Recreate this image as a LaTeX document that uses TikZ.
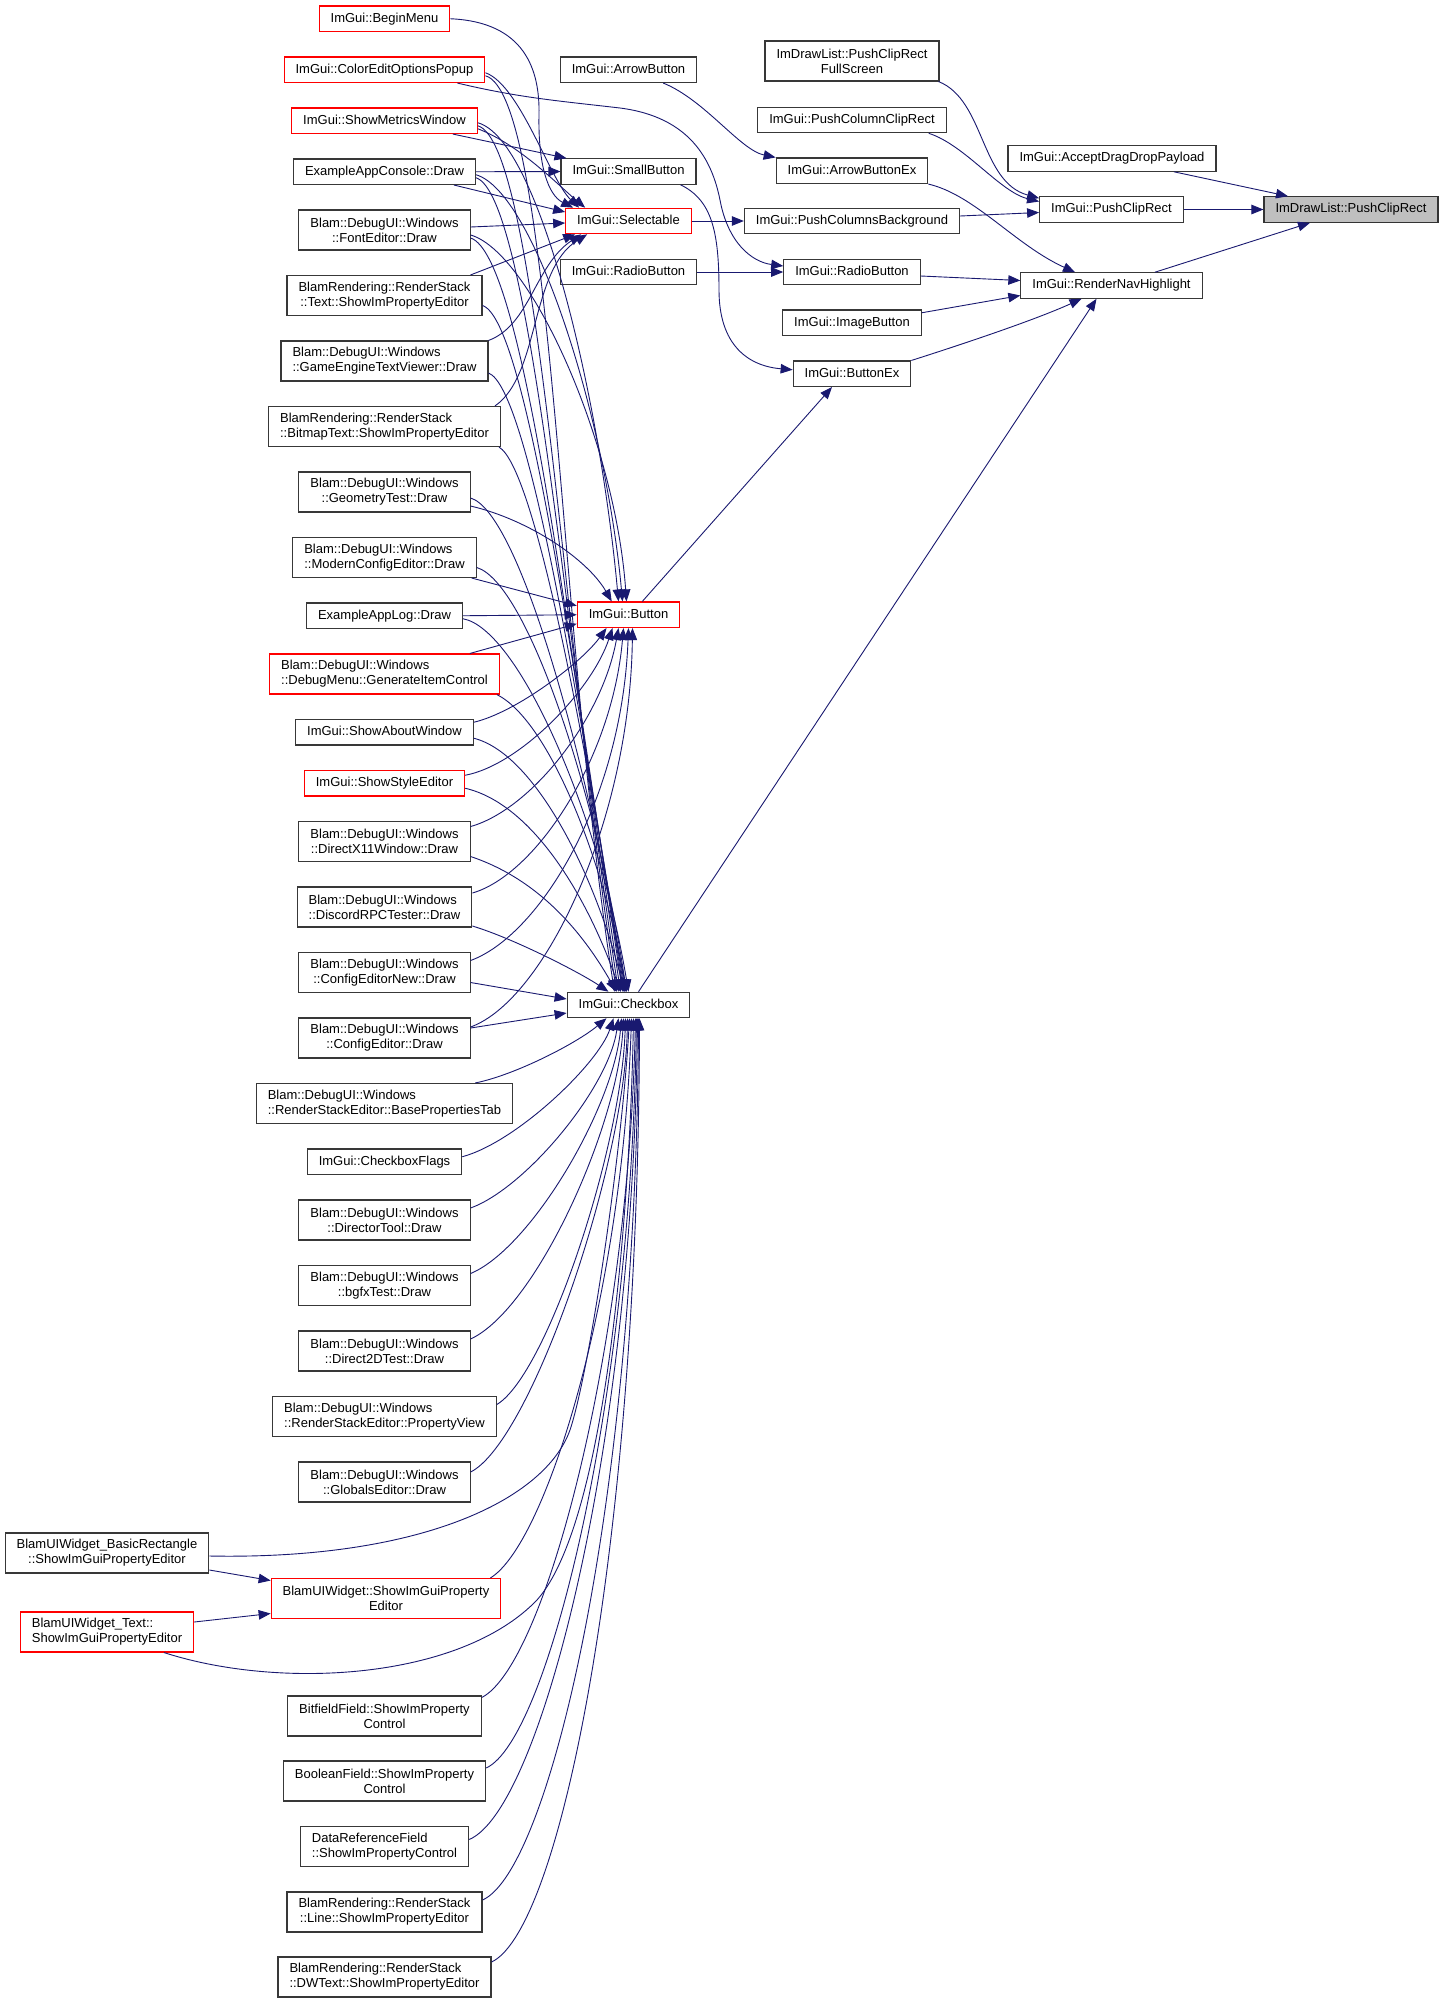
\documentclass[tikz,border=0pt]{standalone}
\usepackage{fontspec}
\setmainfont{Liberation Sans}
\usetikzlibrary{arrows.meta,calc}
\definecolor{edgec}{HTML}{191970}
\definecolor{rootfill}{HTML}{BFBFBF}
\newlength\twa
\newlength\twb
\newcommand\twoln[2]{\settowidth\twa{#1}\settowidth\twb{#2}\ifdim\twb>\twa\twa=\twb\fi\vbox{\baselineskip=15pt\hbox to\twa{#1\hfil}\hbox to\twa{\hfil#2\hfil}}}
\tikzset{
  basebox/.style={draw=black!78, line width=1.1pt, fill=white, rectangle, inner xsep=11.5pt, inner ysep=0pt, font=\fontsize{13pt}{15pt}\selectfont},
  nb/.style={basebox, minimum height=25.5pt, text height=9.5pt, text depth=2.6pt},
  nd/.style={basebox, minimum height=40pt},
  rd/.style={draw=red},
  rootn/.style={fill=rootfill, draw=black!80},
  edg/.style={draw=edgec, line width=0.9pt, -{Triangle[length=12pt,width=9.5pt]}},
}
\begin{document}
\begin{tikzpicture}[x=1pt,y=-1pt]
\useasboundingbox[fill=white] (0,0) rectangle (1440,2003);
% ---------- left column ----------
\node[nb,rd] (bm) at (384.5,18.75) {ImGui::BeginMenu};
\node[nb,rd] (cep) at (384.5,69.75) {ImGui::ColorEditOptionsPopup};
\node[nb,rd] (smw) at (384.5,120.75) {ImGui::ShowMetricsWindow};
\node[nb] (eac) at (384.5,171.75) {ExampleAppConsole::Draw};
\node[nd] (fe) at (384.5,230) {\twoln{Blam::DebugUI::Windows}{::FontEditor::Draw}};
\node[nd] (txt) at (384.5,295.5) {\twoln{BlamRendering::RenderStack}{::Text::ShowImPropertyEditor}};
\node[nd] (getv) at (384.5,361) {\twoln{Blam::DebugUI::Windows}{::GameEngineTextViewer::Draw}};
\node[nd] (bmt) at (384.5,426.5) {\twoln{BlamRendering::RenderStack}{::BitmapText::ShowImPropertyEditor}};
\node[nd] (geo) at (384.5,492) {\twoln{Blam::DebugUI::Windows}{::GeometryTest::Draw}};
\node[nd] (mce) at (384.5,557.5) {\twoln{Blam::DebugUI::Windows}{::ModernConfigEditor::Draw}};
\node[nb] (eal) at (384.5,615.75) {ExampleAppLog::Draw};
\node[nd,rd] (dm) at (384.5,674) {\twoln{Blam::DebugUI::Windows}{::DebugMenu::GenerateItemControl}};
\node[nb] (saw) at (384.5,732.25) {ImGui::ShowAboutWindow};
\node[nb,rd] (sse) at (384.5,783.25) {ImGui::ShowStyleEditor};
\node[nd] (dx) at (384.5,841.5) {\twoln{Blam::DebugUI::Windows}{::DirectX11Window::Draw}};
\node[nd] (drpc) at (384.5,907) {\twoln{Blam::DebugUI::Windows}{::DiscordRPCTester::Draw}};
\node[nd] (cen) at (384.5,972.5) {\twoln{Blam::DebugUI::Windows}{::ConfigEditorNew::Draw}};
\node[nd] (ce) at (384.5,1038) {\twoln{Blam::DebugUI::Windows}{::ConfigEditor::Draw}};
\node[nd] (bpt) at (384.5,1103.5) {\twoln{Blam::DebugUI::Windows}{::RenderStackEditor::BasePropertiesTab}};
\node[nb] (cbf) at (384.5,1161.75) {ImGui::CheckboxFlags};
\node[nd] (dt) at (384.5,1220) {\twoln{Blam::DebugUI::Windows}{::DirectorTool::Draw}};
\node[nd] (bgfx) at (384.5,1285.5) {\twoln{Blam::DebugUI::Windows}{::bgfxTest::Draw}};
\node[nd] (d2d) at (384.5,1351) {\twoln{Blam::DebugUI::Windows}{::Direct2DTest::Draw}};
\node[nd] (pv) at (384.5,1416.5) {\twoln{Blam::DebugUI::Windows}{::RenderStackEditor::PropertyView}};
\node[nd] (ge) at (384.5,1482) {\twoln{Blam::DebugUI::Windows}{::GlobalsEditor::Draw}};
\node[nd] (br) at (107,1553) {\twoln{BlamUIWidget\_BasicRectangle}{::ShowImGuiPropertyEditor}};
\node[nd,rd] (uiw) at (386,1598.5) {\twoln{BlamUIWidget::ShowImGuiProperty}{Editor}};
\node[nd,rd] (uit) at (107,1632) {\twoln{BlamUIWidget\_Text::}{ShowImGuiPropertyEditor}};
\node[nd] (bf) at (384.5,1716) {\twoln{BitfieldField::ShowImProperty}{Control}};
\node[nd] (bool) at (384.5,1781) {\twoln{BooleanField::ShowImProperty}{Control}};
\node[nd] (drf) at (384.5,1846.5) {\twoln{DataReferenceField}{::ShowImPropertyControl}};
\node[nd] (lne) at (384.5,1912) {\twoln{BlamRendering::RenderStack}{::Line::ShowImPropertyEditor}};
\node[nd] (dw) at (384.5,1977) {\twoln{BlamRendering::RenderStack}{::DWText::ShowImPropertyEditor}};
% ---------- middle column ----------
\node[nb] (ab) at (628.5,69.75) {ImGui::ArrowButton};
\node[nb] (sb) at (628.5,171.5) {ImGui::SmallButton};
\node[nb,rd] (sel) at (628.5,221) {ImGui::Selectable};
\node[nb] (rb1) at (628.5,272) {ImGui::RadioButton};
\node[nb,rd] (btn) at (628.5,614.75) {ImGui::Button};
\node[nb] (chk) at (628.5,1005) {ImGui::Checkbox};
% ---------- third column ----------
\node[nd] (fs) at (852,61) {\twoln{ImDrawList::PushClipRect}{FullScreen}};
\node[nb] (pccr) at (852,120) {ImGui::PushColumnClipRect};
\node[nb] (abx) at (852,170.75) {ImGui::ArrowButtonEx};
\node[nb] (pcb) at (852,221) {ImGui::PushColumnsBackground};
\node[nb] (rb2) at (852,272) {ImGui::RadioButton};
\node[nb] (ib) at (852,322.75) {ImGui::ImageButton};
\node[nb] (bx) at (852,373.75) {ImGui::ButtonEx};
% ---------- fourth column ----------
\node[nb] (addp) at (1112,158.5) {ImGui::AcceptDragDropPayload};
\node[nb] (pcr) at (1111.5,209.5) {ImGui::PushClipRect};
\node[nb] (rnh) at (1111.5,285.5) {ImGui::RenderNavHighlight};
\node[nb,rootn] (root) at (1351,209.5) {ImDrawList::PushClipRect};
% ---------- edges to root ----------
\draw[edg] ($(addp.south)+(62,0)$) -- ($(root.north)+(-63,0)$);
\draw[edg] (pcr.east) -- (root.west);
\draw[edg] ($(rnh.north)+(43.5,0)$) -- ($(root.south)+(-41,0)$);
% ---------- to PushClipRect ----------
\draw[edg] ($(fs.south east)+(-1,0)$) .. controls (985,100) and (980,182) .. ($(pcr.north west)+(0,2)$);
\draw[edg] ($(pccr.south east)+(-18,0)$) .. controls (965,145) and (1000,192) .. ($(pcr.west)+(0,-8)$);
\draw[edg] ($(pcb.east)+(0,-5)$) -- ($(pcr.west)+(0,3)$);
% ---------- to RenderNavHighlight ----------
\draw[edg] (abx.south east) .. controls (975,195) and (1015,245) .. ($(rnh.north)+(-36.5,0)$);
\draw[edg] ($(rb2.east)+(0,4)$) -- ($(rnh.west)+(0,-5)$);
\draw[edg] ($(ib.east)+(0,-10)$) -- ($(rnh.west)+(0,10)$);
\draw[edg] (bx.north east) .. controls (960,345) and (1035,320) .. ($(rnh.south)+(-30,0)$);
\draw[edg] ($(chk.north)+(10,0)$) -- ($(rnh.south)+(-15,0)$);
% ---------- third column inputs ----------
\draw[edg] ($(ab.south east)+(-34,0)$) .. controls (705,100) and (740,150) .. (abx.north west);
\draw[edg] (sel.east) -- (pcb.west);
\draw[edg] (rb1.east) -- (rb2.west);
\draw[edg] ($(cep.south east)+(-28,0)$) .. controls (520,98) and (560,101) .. (620,108) .. controls (690,117) and (712,160) .. (720,200) .. controls (728,243) and (752,262) .. ($(rb2.west)+(0,-6)$);
\draw[edg] ($(sb.south east)+(-16,0)$) .. controls (712,200) and (719,232) .. (719,290) .. controls (719,345) and (748,366) .. ($(bx.west)+(0,-4)$);
\draw[edg] ($(btn.north east)+(-38,0)$) -- ($(bx.south)+(-20,0)$);
% ---------- SmallButton ----------
\draw[edg] ($(smw.south east)+(-25,0)$) -- ($(sb.north west)+(6,0)$);
\draw[edg] (eac.east) -- (sb.west);
% ---------- Selectable ----------
\draw[edg] (bm.east) .. controls (525,22) and (540,70) .. (539,115) .. controls (538,165) and (548,195) .. ($(sel.north west)+(8,0)$);
\draw[edg] ($(cep.east)+(0,3)$) .. controls (520,85) and (550,180) .. ($(sel.north west)+(14,0)$);
\draw[edg] ($(smw.east)+(0,8)$) .. controls (520,145) and (558,185) .. ($(sel.north west)+(20,0)$);
\draw[edg] ($(eac.south east)+(-22,0)$) -- ($(sel.west)+(0,-9)$);
\draw[edg] ($(fe.east)+(0,-3)$) -- ($(sel.west)+(0,2)$);
\draw[edg] ($(txt.north east)+(-12,0)$) -- ($(sel.south west)+(10,0)$);
\draw[edg] (getv.north east) .. controls (530,325) and (535,265) .. ($(sel.south west)+(16,0)$);
\draw[edg] ($(bmt.north east)+(-6,0)$) .. controls (540,375) and (530,270) .. ($(sel.south west)+(22,0)$);
% ---------- Button ----------
\draw[edg] ($(smw.east)+(0,2)$) .. controls (540,140) and (600,400) .. ($(btn.north)+(-10,0)$);
\draw[edg] ($(eac.east)+(0,3)$) .. controls (535,192) and (606,420) .. ($(btn.north)+(-6,0)$);
\draw[edg] ($(fe.east)+(0,5)$) .. controls (530,252) and (615,440) .. ($(btn.north)+(-2,0)$);
\draw[edg] ($(geo.east)+(0,14)$) .. controls (530,520) and (588,560) .. ($(btn.north west)+(35,0)$);
\draw[edg] ($(mce.south east)+(-5,0)$) -- ($(btn.west)+(0,-9)$);
\draw[edg] (eal.east) -- (btn.west);
\draw[edg] ($(dm.north east)+(-30,0)$) -- ($(btn.west)+(0,9)$);
\draw[edg] ($(saw.east)+(0,-10)$) .. controls (517,712) and (582,662) .. ($(btn.south)+(-22,0)$);
\draw[edg] ($(sse.east)+(0,-8)$) .. controls (520,765) and (592,690) .. ($(btn.south)+(-16,0)$);
\draw[edg] ($(dx.east)+(0,-15)$) .. controls (530,810) and (602,720) .. ($(btn.south)+(-10,0)$);
\draw[edg] ($(drpc.east)+(0,-14)$) .. controls (535,875) and (612,760) .. ($(btn.south)+(-5,0)$);
\draw[edg] ($(cen.east)+(0,-12)$) .. controls (540,935) and (622,800) .. (btn.south);
\draw[edg] ($(ce.east)+(0,-11)$) .. controls (545,1000) and (630,820) .. ($(btn.south)+(4,0)$);
% ---------- Checkbox from above ----------
\draw[edg] ($(cep.east)+(0,6)$) .. controls +(67,19) and +(-55,-350) .. ($(chk.north)+(-14,0)$);
\draw[edg] ($(smw.east)+(0,5)$) .. controls +(60,18) and +(-52,-340) .. ($(chk.north)+(-12,0)$);
\draw[edg] ($(eac.east)+(0,6)$) .. controls +(55,18) and +(-50,-330) .. ($(chk.north)+(-10,0)$);
\draw[edg] ($(fe.east)+(0,8)$) .. controls +(55,18) and +(-48,-320) .. ($(chk.north)+(-8,0)$);
\draw[edg] ($(txt.east)+(0,10)$) .. controls +(45,15) and +(-45,-300) .. ($(chk.north)+(-6,0)$);
\draw[edg] ($(getv.east)+(0,12)$) .. controls +(40,15) and +(-42,-280) .. ($(chk.north)+(-5,0)$);
\draw[edg] ($(bmt.south east)+(-2,0)$) .. controls +(35,20) and +(-40,-260) .. ($(chk.north)+(-4,0)$);
\draw[edg] ($(geo.east)+(0,6)$) .. controls +(50,15) and +(-35,-220) .. ($(chk.north)+(-3,0)$);
\draw[edg] ($(mce.east)+(0,10)$) .. controls +(50,15) and +(-30,-200) .. ($(chk.north)+(-2,0)$);
\draw[edg] ($(eal.east)+(0,3)$) .. controls +(55,10) and +(-30,-180) .. (chk.north);
\draw[edg] ($(dm.south east)+(-3,0)$) .. controls +(50,25) and +(-25,-140) .. ($(chk.north)+(-2,0)$);
\draw[edg] ($(saw.east)+(0,6)$) .. controls +(60,15) and +(-30,-120) .. ($(chk.north)+(-4,0)$);
\draw[edg] ($(sse.east)+(0,5)$) .. controls +(65,15) and +(-35,-100) .. ($(chk.north)+(-8,0)$);
\draw[edg] ($(dx.east)+(0,15)$) .. controls +(60,20) and +(-40,-70) .. ($(chk.north)+(-12,0)$);
\draw[edg] ($(drpc.east)+(0,19)$) .. controls +(40,12) and +(-30,-20) .. ($(chk.north)+(-20,0)$);
\draw[edg] ($(cen.east)+(0,10)$) -- ($(chk.west)+(0,-6)$);
\draw[edg] ($(ce.east)+(0,-10)$) -- ($(chk.west)+(0,8)$);
% ---------- Checkbox from below ----------
\draw[edg] ($(bpt.north east)+(-38,0)$) .. controls +(40,-8) and +(-30,25) .. ($(chk.south)+(-22,0)$);
\draw[edg] ($(cbf.east)+(0,-5)$) .. controls +(55,-15) and +(-15,45) .. ($(chk.south)+(-15,0)$);
\draw[edg] ($(dt.east)+(0,-12)$) .. controls +(55,-20) and +(-10,70) .. ($(chk.south)+(-10,0)$);
\draw[edg] ($(bgfx.east)+(0,-12)$) .. controls +(60,-25) and +(-8,90) .. ($(chk.south)+(-7,0)$);
\draw[edg] ($(d2d.east)+(0,-12)$) .. controls +(65,-30) and +(-6,110) .. ($(chk.south)+(-5,0)$);
\draw[edg] ($(pv.east)+(0,-12)$) .. controls +(50,-30) and +(-4,130) .. ($(chk.south)+(-3,0)$);
\draw[edg] ($(ge.east)+(0,-10)$) .. controls +(60,-30) and +(-3,150) .. ($(chk.south)+(-1,0)$);
\draw[edg] ($(br.east)+(0,3)$) .. controls (420,1560) and (545,1500) .. (570,1430) .. controls (590,1370) and (622,1150) .. ($(chk.south)+(1,0)$);
\draw[edg] ($(uiw.north east)+(-11,0)$) .. controls (545,1545) and (622,1300) .. ($(chk.south)+(3,0)$);
\draw[edg] ($(uit.south)+(57,0)$) .. controls (280,1690) and (460,1680) .. (537,1600) .. controls (608,1520) and (630,1200) .. ($(chk.south)+(5,0)$);
\draw[edg] ($(bf.north east)+(0,2)$) .. controls (545,1665) and (628,1350) .. ($(chk.south)+(7,0)$);
\draw[edg] ($(bool.east)+(0,-13)$) .. controls (548,1740) and (631,1400) .. ($(chk.south)+(8,0)$);
\draw[edg] ($(drf.east)+(0,-7)$) .. controls (540,1810) and (633,1450) .. ($(chk.south)+(9,0)$);
\draw[edg] ($(lne.east)+(0,-12)$) .. controls (550,1870) and (636,1500) .. ($(chk.south)+(10,0)$);
\draw[edg] ($(dw.east)+(0,-15)$) .. controls (560,1930) and (638,1550) .. ($(chk.south)+(11,0)$);
% ---------- BlamUIWidget ----------
\draw[edg] ($(br.east)+(0,17)$) -- ($(uiw.west)+(0,-18)$);
\draw[edg] ($(uit.east)+(0,-10)$) -- ($(uiw.west)+(0,15)$);
\end{tikzpicture}
\end{document}
